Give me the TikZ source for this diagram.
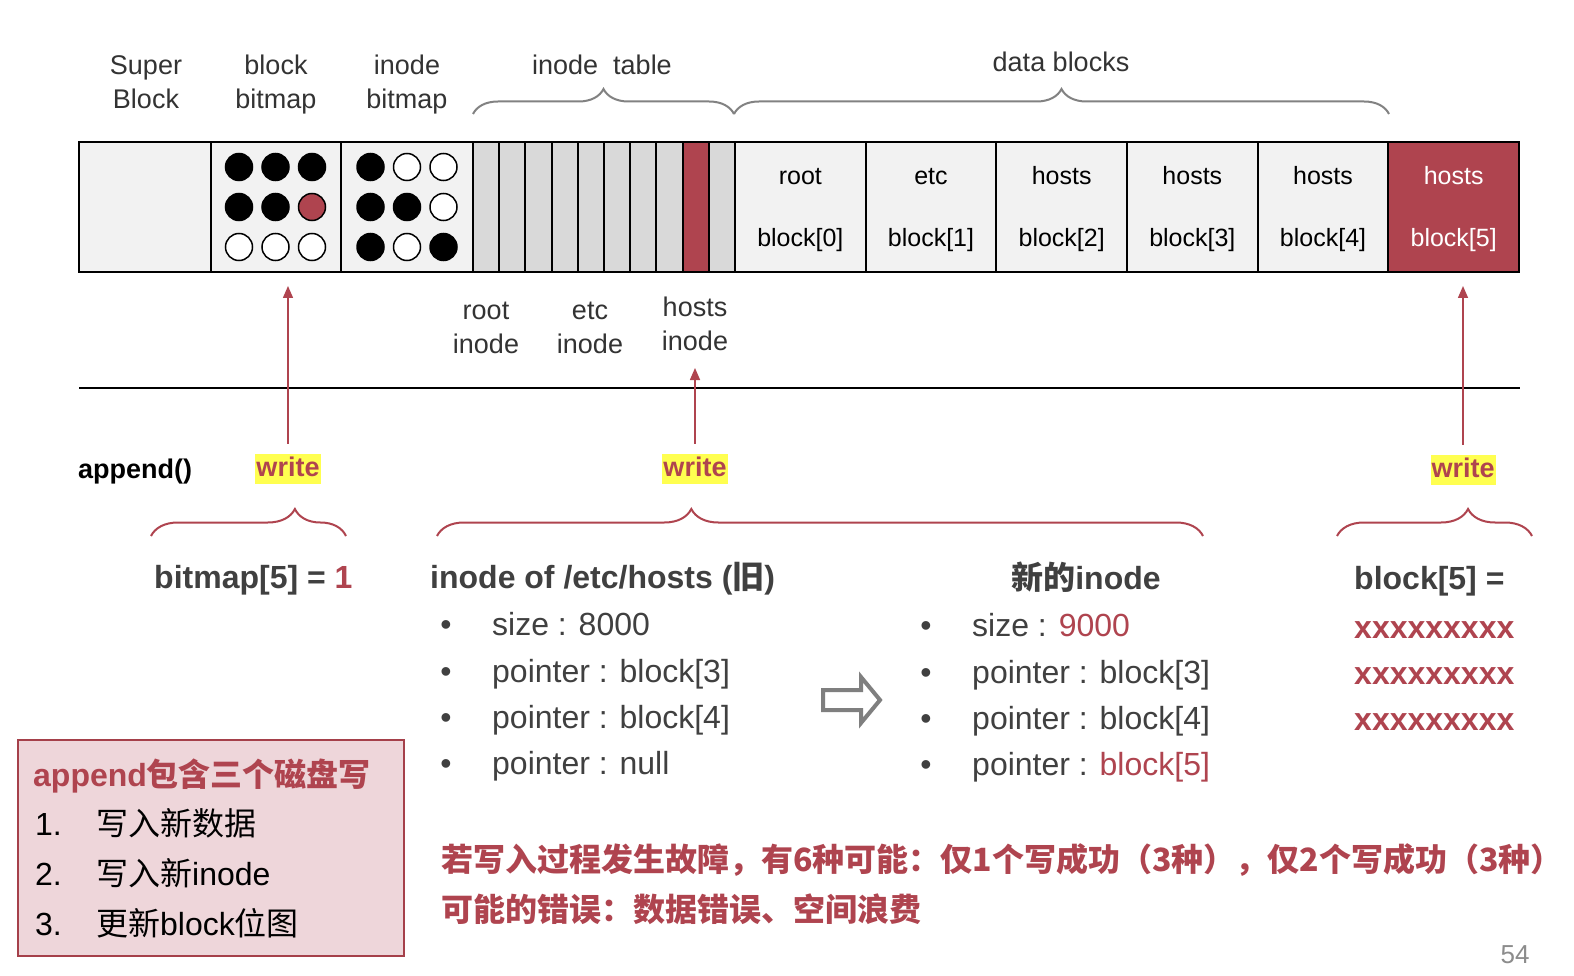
\documentclass[tikz,border=0pt]{standalone}
\usepackage{fontspec}
\setmainfont{Liberation Sans}
\newfontfamily\cjk{Noto Sans CJK SC}
\usetikzlibrary{arrows.meta,decorations.pathreplacing,calc}
\definecolor{myred}{RGB}{175,68,79}
\definecolor{txtgray}{RGB}{64,64,64}
\definecolor{labelgray}{RGB}{51,51,51}
\definecolor{lightfill}{RGB}{242,242,242}
\definecolor{stripfill}{RGB}{217,217,217}
\definecolor{pinkfill}{RGB}{238,214,218}
\definecolor{boxborder}{RGB}{165,64,74}
\definecolor{hl}{RGB}{255,255,80}
\definecolor{bracegray}{RGB}{130,130,130}
\definecolor{arrowgray}{RGB}{127,127,127}
\definecolor{pagegray}{RGB}{140,140,140}
\tikzset{
  cell/.style={draw=black, line width=2pt, minimum height=130pt, anchor=north west, inner sep=0pt, outer sep=0pt},
  datacell/.style={cell, minimum width=130.67pt, align=center, font=\fontsize{25}{62}\selectfont, text height=80pt, text depth=0pt},
  strip/.style={cell, minimum width=26.2pt, fill=stripfill},
  dot/.style={circle, draw=black, line width=1.5pt, minimum size=27pt, inner sep=0pt},
  lbltwo/.style={align=center, font=\fontsize{27}{34}\selectfont, text=labelgray, text height=53.4pt, text depth=0pt, inner sep=0pt},
  lblone/.style={font=\fontsize{27}{34}\selectfont, text=labelgray, text height=19.4pt, text depth=0pt, inner sep=0pt},
  wnode/.style={fill=hl, text=myred, font=\bfseries\fontsize{27}{32}\selectfont, inner xsep=1pt, inner ysep=2pt, text height=20pt, text depth=6pt},
  warrow/.style={draw=myred, line width=1.5pt, -{Triangle[width=10pt,length=12pt]}, shorten <=10pt},
  gbrace/.style={draw=bracegray, line width=2pt, decorate, decoration={brace, amplitude=25pt}},
  rbrace/.style={draw=myred, line width=2pt, decorate, decoration={brace, amplitude=27pt, aspect=#1}},
  tt/.style={font=\fontsize{32}{38}\selectfont, text=txtgray, text height=23pt, text depth=0pt, inner sep=0pt},
  tb/.style={tt, font=\bfseries\fontsize{32}{38}\selectfont},
  bx/.style={font=\fontsize{32}{38}\selectfont, text=black, text height=23pt, text depth=0pt, inner sep=0pt, anchor=west},
}
\begin{document}
\begin{tikzpicture}[x=1pt,y=-1pt]
\fill[white] (0,0) rectangle (1574,976);
\useasboundingbox (0,0) rectangle (1574,976);

% top labels
\node[lbltwo] (lsb) at (146,82) {Super\\Block};
\node[lbltwo] (lbb) at (276,82) {block\\bitmap};
\node[lbltwo] (lib) at (407,82) {inode\\bitmap};
\node[lblone] (lit) at (602,65) {inode~~table};
\node[lblone] (ldb) at (1061,62) {data blocks};

% top braces
\draw[gbrace] (473,114) -- (734,114);
\draw[gbrace] (734,114) -- (1389,114);

% bar cells
\node[cell, fill=lightfill, minimum width=132pt] (sb) at (79,142) {};
\node[cell, fill=lightfill, minimum width=130pt] (bb) at (211,142) {};
\node[cell, fill=lightfill, minimum width=132pt] (ib) at (341,142) {};
\foreach \i in {0,...,7,9} {
  \node[strip] (s\i) at ({473+\i*26.2},142) {};
}
\node[strip, fill=myred] (s8) at ({473+8*26.2},142) {};
\foreach \j/\n in {0/root,1/etc,2/hosts,3/hosts,4/hosts} {
  \node[datacell, fill=lightfill] (d\j) at ({735+\j*130.67},142) {\n\\block[\j]};
}
\node[datacell, fill=myred, text=white] (d5) at ({735+5*130.67},142) {hosts\\block[5]};

% block bitmap dots
\node[dot, fill=black] (b11) at (239,167) {};
\node[dot, fill=black] (b12) at (275.5,167) {};
\node[dot, fill=black] (b13) at (312,167) {};
\node[dot, fill=black] (b21) at (239,207) {};
\node[dot, fill=black] (b22) at (275.5,207) {};
\node[dot, fill=myred] (b23) at (312,207) {};
\node[dot, fill=white] (b31) at (239,247) {};
\node[dot, fill=white] (b32) at (275.5,247) {};
\node[dot, fill=white] (b33) at (312,247) {};
% inode bitmap dots
\node[dot, fill=black] (i11) at (370.5,167) {};
\node[dot, fill=white] (i12) at (407,167) {};
\node[dot, fill=white] (i13) at (443.5,167) {};
\node[dot, fill=black] (i21) at (370.5,207) {};
\node[dot, fill=black] (i22) at (407,207) {};
\node[dot, fill=white] (i23) at (443.5,207) {};
\node[dot, fill=black] (i31) at (370.5,247) {};
\node[dot, fill=white] (i32) at (407,247) {};
\node[dot, fill=black] (i33) at (443.5,247) {};

% inode labels
\node[lbltwo] (lri) at (486,326.5) {root\\inode};
\node[lbltwo] (lei) at (590,326.5) {etc\\inode};
\node[lbltwo] (lhi) at (695,324) {hosts\\inode};

% separator
\coordinate (sepL) at (79,388);
\coordinate (sepR) at (1520,388);
\draw[black, line width=1.5pt] (sepL) -- (sepR);

% append and writes
\node[bx, font=\bfseries\fontsize{27}{32}\selectfont, text height=19.4pt] (app) at (78,469) {append()};
\node[wnode] (w1) at (288,469) {write};
\node[wnode] (w2) at (695,469) {write};
\node[wnode] (w3) at (1463,470) {write};
\coordinate (t1) at (288,286);
\coordinate (t2) at (695,368);
\coordinate (t3) at (1463,286);
\draw[warrow] (w1.north) -- (t1);
\draw[warrow] (w2.north) -- (t2);
\draw[warrow] (w3.north) -- (t3);

% red braces
\draw[rbrace=0.738] (151,536) -- (346,536);
\draw[rbrace=0.332] (437,536) -- (1203,536);
\draw[rbrace=0.672] (1337,536) -- (1532,536);

% bitmap text
\node[tb, anchor=west] (bm) at (154,577) {bitmap[5] = \textcolor{myred}{1}};

% old inode
\node[tb, anchor=west] (oi) at (430,577) {inode of /etc/hosts ({\cjk 旧})};
\node[tt] (ob1) at (446,624) {•};
\node[tt] (ob2) at (446,671) {•};
\node[tt] (ob3) at (446,717) {•};
\node[tt] (ob4) at (446,763) {•};
\node[tt, anchor=west] (o1) at (492,624) {size : 8000};
\node[tt, anchor=west] (o2) at (492,671) {pointer : block[3]};
\node[tt, anchor=west] (o3) at (492,717) {pointer : block[4]};
\node[tt, anchor=west] (o4) at (492,763) {pointer : null};

% hollow arrow
\draw[arrowgray, line width=4pt, line join=miter] (823,690) -- (861,690) -- (861,677) -- (880,700) -- (861,723) -- (861,710) -- (823,710) -- cycle;

% new inode
\node[tb] (ni) at (1086,578) {{\cjk 新的}inode};
\node[tt] (nb1) at (926,625) {•};
\node[tt] (nb2) at (926,672) {•};
\node[tt] (nb3) at (926,718) {•};
\node[tt] (nb4) at (926,764) {•};
\node[tt, anchor=west] (n1) at (972,625) {size : \textcolor{myred}{9000}};
\node[tt, anchor=west] (n2) at (972,672) {pointer : block[3]};
\node[tt, anchor=west] (n3) at (972,718) {pointer : block[4]};
\node[tt, anchor=west] (n4) at (972,764) {pointer : \textcolor{myred}{block[5]}};

% block[5] content
\node[tb, anchor=west] (bk) at (1354,578) {block[5] =};
\node[tb, anchor=west, text=myred] (x1) at (1354,627) {xxxxxxxxx};
\node[tb, anchor=west, text=myred] (x2) at (1354,673) {xxxxxxxxx};
\node[tb, anchor=west, text=myred] (x3) at (1354,719) {xxxxxxxxx};

% pink box
\node[draw=boxborder, fill=pinkfill, line width=2pt, minimum width=386pt, minimum height=216pt, anchor=north west, inner sep=0pt] (box) at (17,739) {};
\node[bx, text=myred, font=\bfseries\fontsize{32}{38}\selectfont] (bt) at (33,775) {append{\cjk 包含三个磁盘写}};
\node[bx] (n1l) at (35,824) {1.};
\node[bx] (n1t) at (96,824) {{\cjk 写入新数据}};
\node[bx] (n2l) at (35,874) {2.};
\node[bx] (n2t) at (96,874) {{\cjk 写入新}inode};
\node[bx] (n3l) at (35,924) {3.};
\node[bx] (n3t) at (96,924) {{\cjk 更新}block{\cjk 位图}};

% bottom red text
\node[bx, text=myred, font=\cjk\bfseries\fontsize{32}{38}\selectfont] (r1) at (441,860) {若写入过程发生故障，有6种可能：仅1个写成功（3种），仅2个写成功（3种）};
\node[bx, text=myred, font=\cjk\bfseries\fontsize{32}{38}\selectfont] (r2) at (441,910) {可能的错误：数据错误、空间浪费};

% page number
\node[text=pagegray, font=\fontsize{26}{30}\selectfont, inner sep=0pt] (pg) at (1515,955) {54};
\end{tikzpicture}
\end{document}
